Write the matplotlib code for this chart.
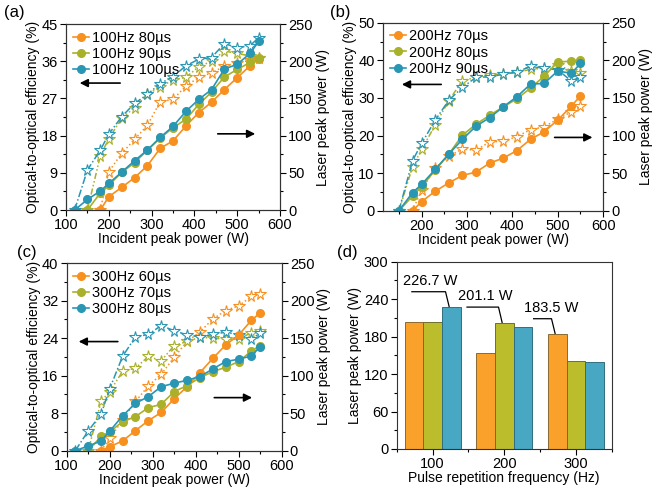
import matplotlib
matplotlib.use("Agg")
import matplotlib.pyplot as plt
from matplotlib.ticker import MultipleLocator, AutoMinorLocator

plt.rcParams['font.family'] = ['Liberation Sans', 'DejaVu Sans']
plt.rcParams['font.size'] = 10

# ---------------- data ----------------
x120 = [120, 150, 180, 200, 230, 260, 290, 320, 350, 380, 410, 440, 470, 500, 530, 550]
x150 = x120[1:]
x180 = x120[2:]

# (a) 100 Hz
a_labels = ["100Hz 80\u00b5s", "100Hz 90\u00b5s", "100Hz 100\u00b5s"]
a_pow_80 = [0, 18, 30.5, 43.5, 59.6, 83, 93, 113, 131, 145, 162, 178, 194, 202.8]
a_pow_90 = [0, 23, 33.6, 50.6, 63.6, 80.6, 96.8, 110.7, 122, 142, 158.6, 179, 189, 198.5, 203.9]
a_pow_100 = [0, 14.3, 25.5, 35.8, 51, 66.3, 80.6, 97.7, 112.5, 132.6, 148.7, 162, 189.5, 196, 210.6, 226.7]
a_eff_80 = [0, 9.3, 13.7, 17.1, 20.5, 26.2, 26.8, 30, 32.1, 33.2, 34.8, 35.5, 36.3, 36.9]
a_eff_90 = [0, 13.1, 17.3, 22.2, 24.8, 28, 29.8, 31.5, 32.1, 34.7, 36, 38.5, 37.9, 37.3, 36.7]
a_eff_100 = [0, 9.7, 14.5, 18.4, 22.6, 25.8, 28, 30.6, 32.3, 34.9, 36.5, 36.9, 40.3, 39.3, 39.8, 41.7]

# (b) 200 Hz
b_labels = ["200Hz 70\u00b5s", "200Hz 80\u00b5s", "200Hz 90\u00b5s"]
b_pow_70 = [0, 12, 26, 37, 47, 51.4, 63.4, 70, 80, 95, 105, 120.6, 139, 152.9]
b_pow_80 = [0, 19.5, 32, 54, 75.4, 100.6, 115, 127, 138, 149, 163, 179, 197.7, 199, 201.1]
b_pow_90 = [0, 24, 35, 55, 75.4, 95, 112.6, 123.7, 138.3, 151.6, 168.4, 169.3, 186, 182.6, 195.9]
b_eff_70 = [0, 5.5, 11.3, 14.5, 16.4, 16.1, 18.3, 18.5, 19.7, 21.6, 22.3, 24.4, 26.3, 27.8]
b_eff_80 = [0, 11.7, 16.3, 22.8, 29.3, 34.6, 35.5, 36.1, 36.3, 36.8, 37.6, 37.9, 38.7, 37.3, 36.6]
b_eff_90 = [0, 13.3, 17.9, 24.1, 29.4, 32.8, 35.5, 35.6, 36.3, 36.9, 38.4, 37.9, 37.5, 34.5, 35.6]

# (c) 300 Hz
c_labels = ["300Hz 60\u00b5s", "300Hz 70\u00b5s", "300Hz 80\u00b5s"]
c_pow_60 = [0, 5.3, 12.9, 26.7, 40, 51, 69, 85.4, 104, 123, 141, 154, 174, 183.5]
c_pow_70 = [0, 19, 25, 38.7, 45.4, 57.4, 61.8, 78.7, 86.7, 97.4, 105.4, 111.2, 118.8, 133, 140.2]
c_pow_80 = [0, 6.2, 12.9, 26, 46.3, 63.2, 72, 85.4, 89.9, 93.9, 98.8, 109, 118.8, 122, 126.3, 138.6]
c_eff_60 = [0, 2.6, 6.5, 10.5, 13.8, 16.3, 19.9, 23.3, 25.3, 28.1, 29.9, 30.9, 32.9, 33.4]
c_eff_70 = [0, 10.5, 12.6, 16.9, 17.6, 20.1, 19.2, 22.4, 23.3, 24.2, 24, 23.8, 23.8, 25.2, 25.6]
c_eff_80 = [0, 4.2, 7.8, 13.2, 20.1, 24.3, 24.8, 26.7, 25.6, 24.7, 24.3, 24.8, 25.3, 24.7, 23.8, 25.1]

# (d) bars
d_freq = [100, 200, 300]
d_short = [202.8, 152.9, 183.5]
d_mid = [203.9, 201.1, 140.2]
d_long = [226.7, 195.9, 138.6]
d_notes = ["226.7 W", "201.1 W", "183.5 W"]

# ---------------- style ----------------
C_OR = '#F7901E'
C_OL = '#A9B02A'
C_BL = '#2996B4'
B_OR = '#F9A12A'
B_OL = '#BBBD2C'
B_BL = '#48A7C2'
styles = [':', (0, (4, 1.5, 1, 1.5, 1, 1.5)), (0, (5, 1.5, 1, 1.5))]

fig = plt.figure(figsize=(6.57, 4.92), dpi=100)


def style_axis(ax):
    ax.tick_params(which='major', direction='out', length=4, width=0.8, labelsize=10.5, pad=2)
    ax.tick_params(which='minor', direction='out', length=2, width=0.8)
    for s in ax.spines.values():
        s.set_linewidth(0.8)
        s.set_color('#333333')


def line_panel(rect, xs_list, pows, effs, labels, ylim_l, ystep_l, xlim, xticks, arrows, tag, tagpos):
    ax = fig.add_axes(rect)
    ax2 = ax.twinx()
    cols = [C_OR, C_OL, C_BL]
    for xs, e, c, ls in zip(xs_list, effs, cols, styles):
        ax.plot(xs, e, linestyle=ls, color=c, lw=1.1, marker='*', ms=8.5,
                mfc='white', mec=c, mew=0.8)
    handles = []
    for xs, p, c, lab in zip(xs_list, pows, cols, labels):
        h, = ax2.plot(xs, p, '-', color=c, lw=1.2, marker='o', ms=5.5, label=lab)
        handles.append(h)
    ax.set_xlim(*xlim)
    ax.set_xticks(xticks)
    ax.xaxis.set_minor_locator(AutoMinorLocator(2))
    ax.set_ylim(*ylim_l)
    ax.yaxis.set_major_locator(MultipleLocator(ystep_l))
    ax.yaxis.set_minor_locator(AutoMinorLocator(2))
    ax2.set_ylim(0, 250)
    ax2.yaxis.set_major_locator(MultipleLocator(50))
    ax2.yaxis.set_minor_locator(AutoMinorLocator(2))
    style_axis(ax)
    style_axis(ax2)
    ax.set_xlabel('Incident peak power (W)', labelpad=0)
    ax.set_ylabel('Optical-to-optical efficiency (%)', labelpad=1)
    ax2.set_ylabel('Laser peak power (W)', labelpad=2)
    ax2.legend(handles=handles, loc='upper left', frameon=False, fontsize=10.5,
               handlelength=1.1, handletextpad=0.2, labelspacing=0.15,
               borderaxespad=0.3, borderpad=0.15)
    for (x0, x1, y) in arrows:
        ax.annotate('', xy=(x1, y), xytext=(x0, y), xycoords='axes fraction',
                    arrowprops=dict(arrowstyle='-|>', color='black', lw=1.2,
                                    mutation_scale=12))
    fig.text(tagpos[0], tagpos[1], tag, fontsize=12, ha='left', va='top')
    return ax, ax2


line_panel([0.1005, 0.573, 0.3257, 0.378], [x180, x150, x120],
           [a_pow_80, a_pow_90, a_pow_100], [a_eff_80, a_eff_90, a_eff_100],
           a_labels, (0, 45), 9, (100, 600), [100, 200, 300, 400, 500, 600],
           [(0.266, 0.051, 0.683), (0.696, 0.897, 0.41)], '(a)', (0.006, 0.99))

line_panel([0.583, 0.5717, 0.335, 0.382], [x180, x150, x150],
           [b_pow_70, b_pow_80, b_pow_90], [b_eff_70, b_eff_80, b_eff_90],
           b_labels, (0, 50), 10, (115, 600), [200, 300, 400, 500, 600],
           [(0.277, 0.073, 0.672), (0.767, 0.964, 0.39)], '(b)', (0.502, 0.99))

line_panel([0.1015, 0.084, 0.327, 0.381], [x180, x150, x120],
           [c_pow_60, c_pow_70, c_pow_80], [c_eff_60, c_eff_70, c_eff_80],
           c_labels, (0, 40), 8, (100, 600), [100, 200, 300, 400, 500, 600],
           [(0.251, 0.043, 0.582), (0.674, 0.876, 0.283)], '(c)', (0.026, 0.502))

# ---------------- (d) ----------------
axd = fig.add_axes([0.604, 0.0874, 0.327, 0.381])
w = 26
axd.bar([f - w for f in d_freq], d_short, width=w, color=B_OR, edgecolor='#8a6a30', lw=0.7)
axd.bar(d_freq, d_mid, width=w, color=B_OL, edgecolor='#6f6f2a', lw=0.7)
axd.bar([f + w for f in d_freq], d_long, width=w, color=B_BL, edgecolor='#2f6f80', lw=0.7)
axd.set_xlim(50, 350)
axd.set_xticks(d_freq)
axd.xaxis.set_minor_locator(AutoMinorLocator(2))
axd.set_ylim(0, 300)
axd.yaxis.set_major_locator(MultipleLocator(60))
axd.yaxis.set_minor_locator(AutoMinorLocator(2))
style_axis(axd)
axd.set_xlabel('Pulse repetition frequency (Hz)', labelpad=0)
axd.set_ylabel('Laser peak power (W)', labelpad=1)

# annotation leader lines: (bar x, bar top) for the max bar in each group
tops = [(d_freq[0] + w, d_long[0]), (d_freq[1], d_mid[1]), (d_freq[2] - w, d_short[2])]
offs = [(-55, 25, -3), (-52, 26, -3), (-33, 25, -3)]
for (bx, by), (dx, dy, sx), note in zip(tops, offs, d_notes):
    yk = by + dy
    axd.plot([bx + dx, bx + sx - 5, bx + sx], [yk, yk, by + 1.5], color='black', lw=0.9)
    axd.text(bx + dx + 25, yk + 6, note, ha='center', va='bottom', fontsize=10.5)
fig.text(0.513, 0.502, '(d)', fontsize=12, ha='left', va='top')

fig.savefig('out.png', dpi=100)
